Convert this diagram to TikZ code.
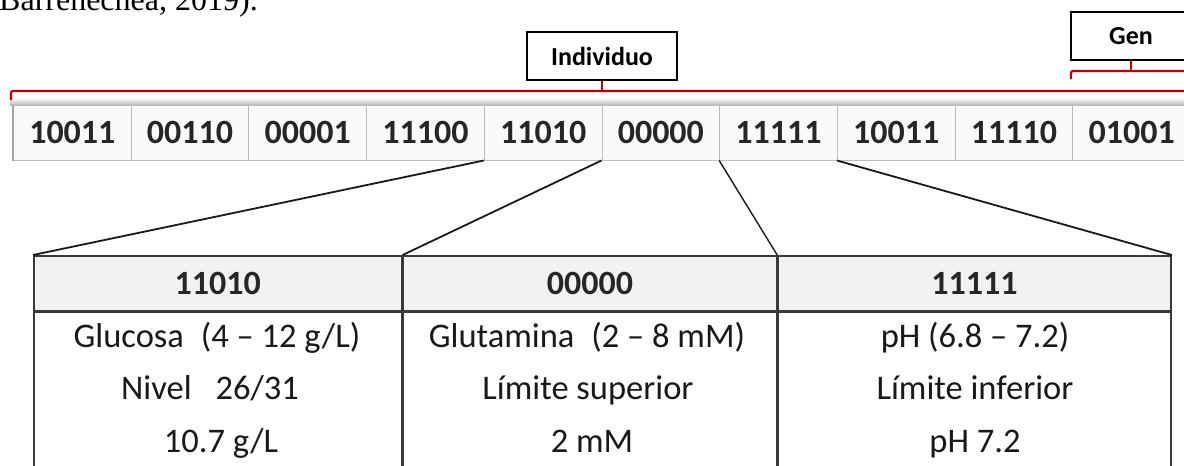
\documentclass[tikz,border=0pt]{standalone}
\usepackage{fontspec}
\setmainfont{Carlito}
\newfontfamily\capfont{Liberation Serif}
\usetikzlibrary{positioning}
\definecolor{BracketRed}{HTML}{C00000}
\definecolor{CellLine}{HTML}{BDBDBD}
\definecolor{CellFill}{HTML}{FAFAFA}
\definecolor{HeadFill}{HTML}{F2F2F2}
\definecolor{TableLine}{HTML}{3A3A3A}
\definecolor{DigitGray}{HTML}{262626}

\tikzset{
  bitcell/.style={draw=CellLine, fill=CellFill, line width=1pt, minimum width=117.7pt, minimum height=55pt,
    inner sep=0pt, anchor=west, font=\fontsize{34}{40}\selectfont\bfseries, text=DigitGray},
  labelbox/.style={draw=black, fill=white, line width=1.6pt, inner sep=0pt, font=\fontsize{26}{30}\selectfont\bfseries},
  bracket/.style={draw=BracketRed, line width=2.2pt, rounded corners=2pt},
  link/.style={draw=black!90, line width=1.8pt},
  headcell/.style={draw=TableLine, fill=HeadFill, line width=1.6pt, minimum height=55pt, inner sep=0pt,
    anchor=north west, font=\fontsize{34}{40}\selectfont\bfseries, text=DigitGray},
  bodycell/.style={draw=TableLine, fill=white, line width=1.6pt, minimum height=200pt, inner sep=0pt},
  bodytext/.style={inner sep=0pt, anchor=base, font=\fontsize{34.5}{40}\selectfont, text=black!90},
}

\begin{document}
\begin{tikzpicture}[x=1pt, y=-1pt, node distance=0pt]
  \useasboundingbox (0,0) rectangle (1184,466);
  \clip (0,0) rectangle (1184,466);

  % tail of the caption above
  \node[anchor=base west, inner sep=0pt, font=\capfont\fontsize{32}{36}\selectfont] (cap) at (-1,10) {Barrenechea, 2019).};

  % chromosome strip
  \shade[top color=white, bottom color=gray!60] (10,98) rectangle (1190,105.5);
  \foreach \v [count=\i] in {10011,00110,00001,11100,11010,00000,11111,10011,11110,01001}
    \node[bitcell] (c\i) at ({13+117.7*(\i-1)}, 132.5) {\v};
  \draw[gray!70, line width=1.4pt] (c1.north west) -- (c1.south west);

  % labels and brackets
  \node[labelbox, minimum width=150pt, minimum height=48pt] (ind) at (602,56) {Individuo};
  \node[labelbox, minimum width=120pt, minimum height=48pt] (gen) at (1131,36) {Gen};
  \coordinate (indL) at (11,100);
  \coordinate (genL) at (1071,79);
  \draw[bracket] (indL) -- (11,91) -- (1192,91);
  \draw[bracket] (ind.south) -- (ind.south |- 0,91);
  \draw[bracket] (genL) -- (1071,71) -- (1192,71);
  \draw[bracket] (gen.south) -- (gen.south |- 0,71);

  % decoded genes
  \node[headcell, minimum width=368pt] (h1) at (33,255) {11010};
  \node[headcell, minimum width=373pt] (h2) at (h1.north east) {00000};
  \node[headcell, minimum width=393pt] (h3) at (h2.north east) {11111};
  \node[bodycell, minimum width=368pt, below=of h1] (b1) {};
  \node[bodycell, minimum width=373pt, below=of h2] (b2) {};
  \node[bodycell, minimum width=393pt, below=of h3] (b3) {};

  \node[bodytext] (g1) at (217,347) {Glucosa\hspace{17pt}(4 -- 12 g/L)};
  \node[bodytext] (g2) at (210,399) {Nivel\hspace{24pt}26/31};
  \node[bodytext] (g3) at (221,452) {10.7 g/L};
  \node[bodytext] (q1) at (587,347) {Glutamina\hspace{17pt}(2 -- 8 mM)};
  \node[bodytext] (q2) at (588,399) {Límite superior};
  \node[bodytext] (q3) at (592,452) {2 mM};
  \node[bodytext] (p1) at (975,347) {pH (6.8 -- 7.2)};
  \node[bodytext] (p2) at (975,399) {Límite inferior};
  \node[bodytext] (p3) at (975,452) {pH 7.2};

  % links from strip to table
  \draw[link] (c5.south west) -- (h1.north west);
  \draw[link] (c6.south west) -- (h2.north west);
  \draw[link, line width=1.4pt] (c7.south west) -- (h3.north west);
  \draw[link] (c8.south west) -- (h3.north east);
\end{tikzpicture}
\end{document}
